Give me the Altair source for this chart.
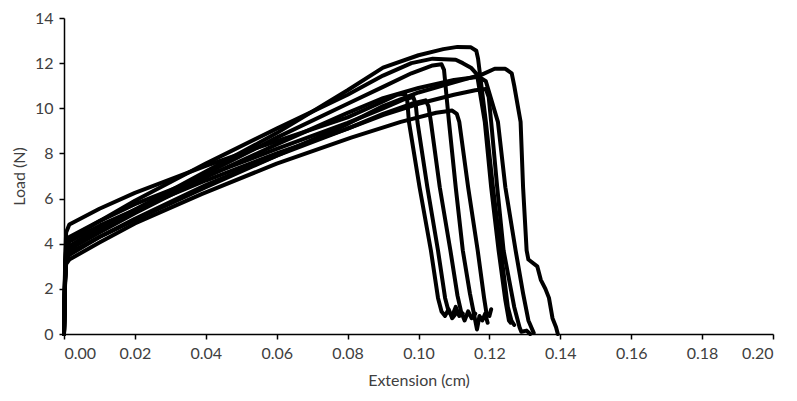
import altair as alt
import pandas as pd

# Extension (cm) / Load (N) for each specimen
c1_x = [0, 0.0003, 0.0006, 0.0015, 0.01, 0.02, 0.04, 0.06, 0.08, 0.09, 0.094, 0.0962, 0.0968, 0.0973, 0.1003, 0.1035, 0.1055, 0.1065, 0.1075, 0.1085, 0.1095, 0.1105]
c1_y = [0, 3.0, 4.5, 4.85, 5.55, 6.25, 7.45, 8.55, 9.6, 10.3, 10.6, 10.65, 10.4, 9.4, 6.5, 3.7, 1.6, 1.0, 0.8, 1.1, 0.7, 0.9]

c2_x = [0, 0.0003, 0.0006, 0.0015, 0.01, 0.02, 0.04, 0.06, 0.08, 0.09, 0.096, 0.0985, 0.0992, 0.0997, 0.1025, 0.1055, 0.1075, 0.1085, 0.1095, 0.1105, 0.1115, 0.1125]
c2_y = [0, 2.8, 4.0, 4.3, 5.0, 5.75, 7.0, 8.2, 9.35, 10.0, 10.4, 10.5, 10.2, 9.4, 6.5, 3.7, 1.6, 1.0, 0.8, 1.2, 0.8, 0.9]

c3_x = [0, 0.0003, 0.0006, 0.0015, 0.01, 0.02, 0.04, 0.06, 0.08, 0.09, 0.098, 0.102, 0.1028, 0.1035, 0.106, 0.109, 0.111, 0.112, 0.113, 0.114, 0.115, 0.116]
c3_y = [0, 2.6, 3.8, 4.1, 4.8, 5.5, 6.8, 8.0, 9.1, 9.75, 10.2, 10.35, 10.1, 9.4, 6.5, 3.7, 1.7, 1.0, 0.6, 1.0, 0.7, 0.9]

c4_x = [0, 0.0003, 0.0006, 0.0015, 0.01, 0.02, 0.04, 0.06, 0.08, 0.09, 0.098, 0.104, 0.1065, 0.1072, 0.1086, 0.1105, 0.1125, 0.1145, 0.1155, 0.1165, 0.1172, 0.118, 0.1188, 0.1195]
c4_y = [0, 2.5, 3.6, 3.9, 4.7, 5.5, 7.1, 8.7, 10.2, 10.95, 11.55, 11.9, 11.95, 11.7, 9.4, 6.5, 3.7, 1.8, 1.0, 0.2, 0.8, 0.6, 0.9, 0.5]

c5_x = [0, 0.0003, 0.0006, 0.0015, 0.01, 0.02, 0.0388, 0.06, 0.081, 0.095, 0.105, 0.1095, 0.1108, 0.1115, 0.114, 0.1167, 0.1185, 0.1192, 0.12, 0.1205]
c5_y = [0, 2.2, 3.1, 3.3, 4.05, 4.9, 6.2, 7.55, 8.7, 9.4, 9.8, 9.9, 9.75, 9.4, 6.5, 3.7, 1.6, 0.9, 0.8, 1.1]

c6_x = [0, 0.0003, 0.0006, 0.0015, 0.01, 0.02, 0.04, 0.06, 0.08, 0.09, 0.1, 0.107, 0.111, 0.1148, 0.1163, 0.1168, 0.119, 0.121, 0.1232, 0.1252, 0.1262, 0.127]
c6_y = [0, 2.4, 3.5, 3.8, 4.6, 5.5, 7.2, 8.9, 10.8, 11.8, 12.35, 12.62, 12.72, 12.7, 12.55, 12.2, 9.4, 6.5, 3.7, 1.2, 0.6, 0.4]

c7_x = [0, 0.0003, 0.0006, 0.0015, 0.01, 0.02, 0.04, 0.06, 0.08, 0.09, 0.098, 0.104, 0.1105, 0.1125, 0.1148, 0.1165, 0.1187, 0.1205, 0.1226, 0.1245, 0.1255, 0.126]
c7_y = [0, 2.6, 3.8, 4.2, 5.0, 5.9, 7.55, 9.1, 10.6, 11.45, 12.0, 12.2, 12.15, 12.0, 11.8, 11.5, 9.4, 6.5, 3.7, 1.5, 0.6, 0.5]

c8_x = [0, 0.0003, 0.0006, 0.0015, 0.01, 0.02, 0.04, 0.06, 0.08, 0.09, 0.1, 0.11, 0.116, 0.119, 0.1198, 0.1205, 0.1222, 0.124, 0.127, 0.1285, 0.129, 0.1305, 0.1315]
c8_y = [0, 2.3, 3.3, 3.6, 4.3, 5.1, 6.6, 7.9, 9.1, 9.7, 10.2, 10.6, 10.8, 10.85, 10.5, 9.4, 6.5, 3.7, 1.2, 0.3, 0.1, 0.15, 0.0]

c9_x = [0, 0.0003, 0.0006, 0.0015, 0.01, 0.02, 0.04, 0.06, 0.08, 0.09, 0.1, 0.11, 0.117, 0.119, 0.1224, 0.1245, 0.1274, 0.1295, 0.131, 0.1325]
c9_y = [0, 2.5, 3.45, 3.75, 4.5, 5.35, 6.95, 8.4, 9.8, 10.45, 10.9, 11.25, 11.4, 11.2, 9.4, 6.5, 3.7, 1.8, 0.6, 0.05]

c10_x = [0, 0.0003, 0.0006, 0.0015, 0.01, 0.02, 0.04, 0.06, 0.08, 0.09, 0.1, 0.11, 0.118, 0.1215, 0.1245, 0.1263, 0.127, 0.1288, 0.1295, 0.1305, 0.131, 0.1335, 0.1345, 0.1358, 0.1368, 0.1378, 0.1388, 0.1393]
c10_y = [0, 2.3, 3.2, 3.5, 4.3, 5.05, 6.5, 7.9, 9.3, 10.1, 10.7, 11.15, 11.5, 11.75, 11.75, 11.55, 11.0, 9.4, 6.5, 3.7, 3.3, 3.0, 2.4, 2.0, 1.6, 0.7, 0.3, 0.0]

x_ticks = [0, 0.02, 0.04, 0.06, 0.08, 0.10, 0.12, 0.14, 0.16, 0.18, 0.20]
y_ticks = [0, 2, 4, 6, 8, 10, 12, 14]

curves = [(c1_x, c1_y), (c2_x, c2_y), (c3_x, c3_y), (c4_x, c4_y), (c5_x, c5_y),
          (c6_x, c6_y), (c7_x, c7_y), (c8_x, c8_y), (c9_x, c9_y), (c10_x, c10_y)]

rows = []
for i, (xs, ys) in enumerate(curves):
    for j, (xv, yv) in enumerate(zip(xs, ys)):
        rows.append({"curve": f"S{i+1}", "x": xv, "y": yv, "order": j})
df = pd.DataFrame(rows)

FONT = "Lato"
TXT = "#404040"

chart = alt.Chart(df).mark_line(color="black", strokeWidth=4, strokeJoin="round", strokeCap="round").encode(
    x=alt.X("x:Q", scale=alt.Scale(domain=[0, 0.2], nice=False),
            axis=alt.Axis(values=x_ticks, format=".2f", title="Extension (cm)", grid=False,
                          tickSize=5, labelPadding=6, titlePadding=11)),
    y=alt.Y("y:Q", scale=alt.Scale(domain=[0, 14], nice=False),
            axis=alt.Axis(values=y_ticks, title="Load (N)", grid=False,
                          tickSize=5, labelPadding=6, titlePadding=7)),
    detail="curve:N",
    order="order:Q",
).properties(
    width=709, height=316,
    autosize=alt.AutoSizeParams(type="none"),
    padding={"left": 56, "top": 10, "right": 16, "bottom": 60},
).configure_view(strokeWidth=0).configure_axis(
    labelFont=FONT, titleFont=FONT, labelFontSize=16, titleFontSize=16,
    labelColor=TXT, titleColor=TXT, titleFontWeight="normal",
    domainColor="#000000", tickColor="#000000", domainWidth=1.5, tickWidth=1.5,
)

chart.save("out.html", embed_options={"renderer": "svg", "actions": False})
